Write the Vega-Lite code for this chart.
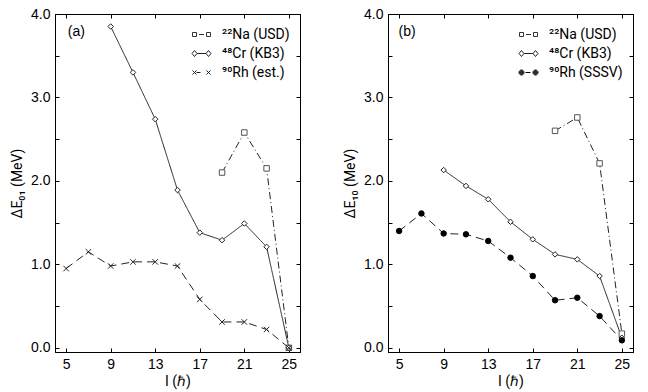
{
  "$schema": "https://vega.github.io/schema/vega-lite/v6.json",
  "padding": {"left": 10, "top": 6, "right": 8, "bottom": 2},
  "background": "white",
  "config": {
    "font": "Liberation Sans",
    "view": {"stroke": "black", "strokeWidth": 1},
    "axis": {
      "grid": false,
      "domainColor": "black",
      "domainWidth": 1,
      "tickColor": "black",
      "tickSize": -4,
      "tickWidth": 1,
      "labelFontSize": 14,
      "labelColor": "black",
      "labelFont": "Liberation Sans",
      "titleFontSize": 14,
      "titleFont": "Roboto, Liberation Sans",
      "titleFontWeight": "normal",
      "titleColor": "black",
      "labelPadding": 9
    },
    "legend": {
      "labelFontSize": 14,
      "labelFont": "Roboto, Liberation Sans",
      "labelColor": "black",
      "symbolSize": 400,
      "symbolStrokeWidth": 1,
      "labelOffset": 10,
      "rowPadding": 1,
      "padding": 0,
      "offset": 10
    }
  },
  "hconcat": [
    {
      "width": 245,
      "height": 338,
      "data": {"values": [
        {"series": "²²Na (USD)", "I": 19, "E": 2.10},
        {"series": "²²Na (USD)", "I": 21, "E": 2.58},
        {"series": "²²Na (USD)", "I": 23, "E": 2.15},
        {"series": "²²Na (USD)", "I": 25, "E": 0.0},
        {"series": "⁴⁸Cr (KB3)", "I": 9, "E": 3.85},
        {"series": "⁴⁸Cr (KB3)", "I": 11, "E": 3.30},
        {"series": "⁴⁸Cr (KB3)", "I": 13, "E": 2.74},
        {"series": "⁴⁸Cr (KB3)", "I": 15, "E": 1.89},
        {"series": "⁴⁸Cr (KB3)", "I": 17, "E": 1.38},
        {"series": "⁴⁸Cr (KB3)", "I": 19, "E": 1.29},
        {"series": "⁴⁸Cr (KB3)", "I": 21, "E": 1.49},
        {"series": "⁴⁸Cr (KB3)", "I": 23, "E": 1.21},
        {"series": "⁴⁸Cr (KB3)", "I": 25, "E": 0.0},
        {"series": "⁹⁰Rh (est.)", "I": 5, "E": 0.95},
        {"series": "⁹⁰Rh (est.)", "I": 7, "E": 1.15},
        {"series": "⁹⁰Rh (est.)", "I": 9, "E": 0.98},
        {"series": "⁹⁰Rh (est.)", "I": 11, "E": 1.03},
        {"series": "⁹⁰Rh (est.)", "I": 13, "E": 1.03},
        {"series": "⁹⁰Rh (est.)", "I": 15, "E": 0.98},
        {"series": "⁹⁰Rh (est.)", "I": 17, "E": 0.58},
        {"series": "⁹⁰Rh (est.)", "I": 19, "E": 0.31},
        {"series": "⁹⁰Rh (est.)", "I": 21, "E": 0.31},
        {"series": "⁹⁰Rh (est.)", "I": 23, "E": 0.22},
        {"series": "⁹⁰Rh (est.)", "I": 25, "E": 0.0}
      ]},
      "layer": [
        {
          "mark": {"type": "line", "strokeWidth": 1, "color": "#222"},
          "encoding": {
            "x": {"field": "I", "type": "quantitative", "scale": {"domain": [4, 26], "nice": false, "zero": false},
              "axis": {"orient": "bottom", "values": [5, 9, 13, 17, 21, 25], "title": "I (ℏ)", "titlePadding": 3}},
            "y": {"field": "E", "type": "quantitative", "scale": {"domain": [-0.05, 4.0], "nice": false, "zero": false},
              "axis": {"orient": "left", "values": [0, 0.5, 1, 1.5, 2, 2.5, 3, 3.5, 4], "labelExpr": "datum.value % 1 === 0 ? format(datum.value, '.1f') : ''", "title": "ΔE₀₁ (MeV)", "titlePadding": 6}},
            "strokeDash": {"field": "series", "type": "nominal", "legend": null,
              "scale": {"domain": ["²²Na (USD)", "⁴⁸Cr (KB3)", "⁹⁰Rh (est.)"], "range": [[7, 3, 1, 3], [1, 0], [8, 5]]}}
          }
        },
        {
          "mark": {"type": "point", "filled": false, "strokeWidth": 1, "size": 30, "opacity": 1},
          "encoding": {
            "x": {"field": "I", "type": "quantitative", "axis": {"orient": "top", "values": [5, 9, 13, 17, 21, 25], "labels": false, "title": null}},
            "y": {"field": "E", "type": "quantitative", "axis": {"orient": "right", "values": [0, 0.5, 1, 1.5, 2, 2.5, 3, 3.5, 4], "labels": false, "title": null}},
            "shape": {"field": "series", "type": "nominal", "legend": null,
              "scale": {"domain": ["²²Na (USD)", "⁴⁸Cr (KB3)", "⁹⁰Rh (est.)"], "range": ["square", "diamond", "M-1,-1L1,1M-1,1L1,-1"]}},
            "fill": {"field": "series", "type": "nominal", "legend": null,
              "scale": {"domain": ["²²Na (USD)", "⁴⁸Cr (KB3)", "⁹⁰Rh (est.)"], "range": ["white", "white", "white"]}},
            "stroke": {"field": "series", "type": "nominal", "legend": null,
              "scale": {"domain": ["²²Na (USD)", "⁴⁸Cr (KB3)", "⁹⁰Rh (est.)"], "range": ["#555", "#222", "#222"]}}
          }
        },
        {
          "mark": {"type": "point", "opacity": 0, "strokeWidth": 1, "filled": true},
          "encoding": {
            "x": {"field": "I", "type": "quantitative", "axis": null},
            "y": {"field": "E", "type": "quantitative", "axis": null},
            "shape": {"field": "series", "type": "nominal",
              "scale": {"domain": ["²²Na (USD)", "⁴⁸Cr (KB3)", "⁹⁰Rh (est.)"], "range": [
                "M-0.9,-0.2H-0.5V0.2H-0.9ZM0.5,-0.2H0.9V0.2H0.5ZM-0.25,0H0.25",
                "M-0.95,0L-0.7,-0.3L-0.45,0L-0.7,0.3ZM0.45,0L0.7,-0.3L0.95,0L0.7,0.3ZM-0.45,0H0.45",
                "M-0.9,-0.2L-0.5,0.2M-0.9,0.2L-0.5,-0.2M0.5,-0.2L0.9,0.2M0.5,0.2L0.9,-0.2M-0.5,0H-0.1"]},
              "legend": {"title": null, "orient": "top-right"}},
            "fill": {"field": "series", "type": "nominal",
              "scale": {"domain": ["²²Na (USD)", "⁴⁸Cr (KB3)", "⁹⁰Rh (est.)"], "range": ["white", "white", "white"]},
              "legend": {"title": null, "orient": "top-right"}},
            "stroke": {"field": "series", "type": "nominal",
              "scale": {"domain": ["²²Na (USD)", "⁴⁸Cr (KB3)", "⁹⁰Rh (est.)"], "range": ["#333", "#222", "#222"]},
              "legend": {"title": null, "orient": "top-right"}}
          }
        },
        {
          "data": {"values": [{"label": "(a)"}]},
          "mark": {"type": "text", "align": "left", "baseline": "middle", "fontSize": 14, "font": "Liberation Sans", "color": "black"},
          "encoding": {
            "x": {"datum": 5.15, "type": "quantitative", "axis": null},
            "y": {"datum": 3.78, "type": "quantitative", "axis": null},
            "text": {"field": "label"}
          }
        }
      ],
      "resolve": {
        "axis": {"x": "independent", "y": "independent"},
        "scale": {"shape": "independent", "fill": "independent", "stroke": "independent"}
      }
    },
    {
      "width": 245,
      "height": 338,
      "data": {"values": [
        {"series": "²²Na (USD)", "I": 19, "E": 2.60},
        {"series": "²²Na (USD)", "I": 21, "E": 2.76},
        {"series": "²²Na (USD)", "I": 23, "E": 2.21},
        {"series": "²²Na (USD)", "I": 25, "E": 0.17},
        {"series": "⁴⁸Cr (KB3)", "I": 9, "E": 2.13},
        {"series": "⁴⁸Cr (KB3)", "I": 11, "E": 1.94},
        {"series": "⁴⁸Cr (KB3)", "I": 13, "E": 1.78},
        {"series": "⁴⁸Cr (KB3)", "I": 15, "E": 1.51},
        {"series": "⁴⁸Cr (KB3)", "I": 17, "E": 1.30},
        {"series": "⁴⁸Cr (KB3)", "I": 19, "E": 1.12},
        {"series": "⁴⁸Cr (KB3)", "I": 21, "E": 1.06},
        {"series": "⁴⁸Cr (KB3)", "I": 23, "E": 0.86},
        {"series": "⁴⁸Cr (KB3)", "I": 25, "E": 0.12},
        {"series": "⁹⁰Rh (SSSV)", "I": 5, "E": 1.40},
        {"series": "⁹⁰Rh (SSSV)", "I": 7, "E": 1.61},
        {"series": "⁹⁰Rh (SSSV)", "I": 9, "E": 1.37},
        {"series": "⁹⁰Rh (SSSV)", "I": 11, "E": 1.36},
        {"series": "⁹⁰Rh (SSSV)", "I": 13, "E": 1.28},
        {"series": "⁹⁰Rh (SSSV)", "I": 15, "E": 1.08},
        {"series": "⁹⁰Rh (SSSV)", "I": 17, "E": 0.86},
        {"series": "⁹⁰Rh (SSSV)", "I": 19, "E": 0.57},
        {"series": "⁹⁰Rh (SSSV)", "I": 21, "E": 0.60},
        {"series": "⁹⁰Rh (SSSV)", "I": 23, "E": 0.38},
        {"series": "⁹⁰Rh (SSSV)", "I": 25, "E": 0.09}
      ]},
      "layer": [
        {
          "mark": {"type": "line", "strokeWidth": 1, "color": "#222"},
          "encoding": {
            "x": {"field": "I", "type": "quantitative", "scale": {"domain": [4, 26], "nice": false, "zero": false},
              "axis": {"orient": "bottom", "values": [5, 9, 13, 17, 21, 25], "title": "I (ℏ)", "titlePadding": 3}},
            "y": {"field": "E", "type": "quantitative", "scale": {"domain": [-0.05, 4.0], "nice": false, "zero": false},
              "axis": {"orient": "left", "values": [0, 0.5, 1, 1.5, 2, 2.5, 3, 3.5, 4], "labelExpr": "datum.value % 1 === 0 ? format(datum.value, '.1f') : ''", "title": "ΔE₁₀ (MeV)", "titlePadding": 6}},
            "strokeDash": {"field": "series", "type": "nominal", "legend": null,
              "scale": {"domain": ["²²Na (USD)", "⁴⁸Cr (KB3)", "⁹⁰Rh (SSSV)"], "range": [[7, 3, 1, 3], [1, 0], [8, 5]]}}
          }
        },
        {
          "mark": {"type": "point", "filled": false, "strokeWidth": 1, "size": 30, "opacity": 1},
          "encoding": {
            "x": {"field": "I", "type": "quantitative", "axis": {"orient": "top", "values": [5, 9, 13, 17, 21, 25], "labels": false, "title": null}},
            "y": {"field": "E", "type": "quantitative", "axis": {"orient": "right", "values": [0, 0.5, 1, 1.5, 2, 2.5, 3, 3.5, 4], "labels": false, "title": null}},
            "shape": {"field": "series", "type": "nominal", "legend": null,
              "scale": {"domain": ["²²Na (USD)", "⁴⁸Cr (KB3)", "⁹⁰Rh (SSSV)"], "range": ["square", "diamond", "circle"]}},
            "fill": {"field": "series", "type": "nominal", "legend": null,
              "scale": {"domain": ["²²Na (USD)", "⁴⁸Cr (KB3)", "⁹⁰Rh (SSSV)"], "range": ["white", "white", "black"]}},
            "stroke": {"field": "series", "type": "nominal", "legend": null,
              "scale": {"domain": ["²²Na (USD)", "⁴⁸Cr (KB3)", "⁹⁰Rh (SSSV)"], "range": ["#555", "#222", "black"]}}
          }
        },
        {
          "mark": {"type": "point", "opacity": 0, "strokeWidth": 1, "filled": true},
          "encoding": {
            "x": {"field": "I", "type": "quantitative", "axis": null},
            "y": {"field": "E", "type": "quantitative", "axis": null},
            "shape": {"field": "series", "type": "nominal",
              "scale": {"domain": ["²²Na (USD)", "⁴⁸Cr (KB3)", "⁹⁰Rh (SSSV)"], "range": [
                "M-0.9,-0.2H-0.5V0.2H-0.9ZM0.5,-0.2H0.9V0.2H0.5ZM-0.25,0H0.25",
                "M-0.95,0L-0.7,-0.3L-0.45,0L-0.7,0.3ZM0.45,0L0.7,-0.3L0.95,0L0.7,0.3ZM-0.45,0H0.45",
                "M-0.95,0A0.25,0.25,0,1,1,-0.45,0A0.25,0.25,0,1,1,-0.95,0ZM-0.88,0A0.18,0.18,0,1,1,-0.52,0A0.18,0.18,0,1,1,-0.88,0ZM-0.81,0A0.11,0.11,0,1,1,-0.59,0A0.11,0.11,0,1,1,-0.81,0ZM-0.75,0A0.05,0.05,0,1,1,-0.65,0A0.05,0.05,0,1,1,-0.75,0ZM0.45,0A0.25,0.25,0,1,1,0.95,0A0.25,0.25,0,1,1,0.45,0ZM0.52,0A0.18,0.18,0,1,1,0.88,0A0.18,0.18,0,1,1,0.52,0ZM0.59,0A0.11,0.11,0,1,1,0.81,0A0.11,0.11,0,1,1,0.59,0ZM0.65,0A0.05,0.05,0,1,1,0.75,0A0.05,0.05,0,1,1,0.65,0ZM-0.3,0H0.2"]},
              "legend": {"title": null, "orient": "top-right"}},
            "fill": {"field": "series", "type": "nominal",
              "scale": {"domain": ["²²Na (USD)", "⁴⁸Cr (KB3)", "⁹⁰Rh (SSSV)"], "range": ["white", "white", "black"]},
              "legend": {"title": null, "orient": "top-right"}},
            "stroke": {"field": "series", "type": "nominal",
              "scale": {"domain": ["²²Na (USD)", "⁴⁸Cr (KB3)", "⁹⁰Rh (SSSV)"], "range": ["#333", "#222", "black"]},
              "legend": {"title": null, "orient": "top-right"}}
          }
        },
        {
          "data": {"values": [{"label": "(b)"}]},
          "mark": {"type": "text", "align": "left", "baseline": "middle", "fontSize": 14, "font": "Liberation Sans", "color": "black"},
          "encoding": {
            "x": {"datum": 4.95, "type": "quantitative", "axis": null},
            "y": {"datum": 3.78, "type": "quantitative", "axis": null},
            "text": {"field": "label"}
          }
        }
      ],
      "resolve": {
        "axis": {"x": "independent", "y": "independent"},
        "scale": {"shape": "independent", "fill": "independent", "stroke": "independent"}
      }
    }
  ],
  "spacing": 42,
  "resolve": {
    "scale": {"shape": "independent", "fill": "independent", "stroke": "independent", "strokeDash": "independent"},
    "legend": {"shape": "independent", "fill": "independent", "stroke": "independent"}
  }
}
